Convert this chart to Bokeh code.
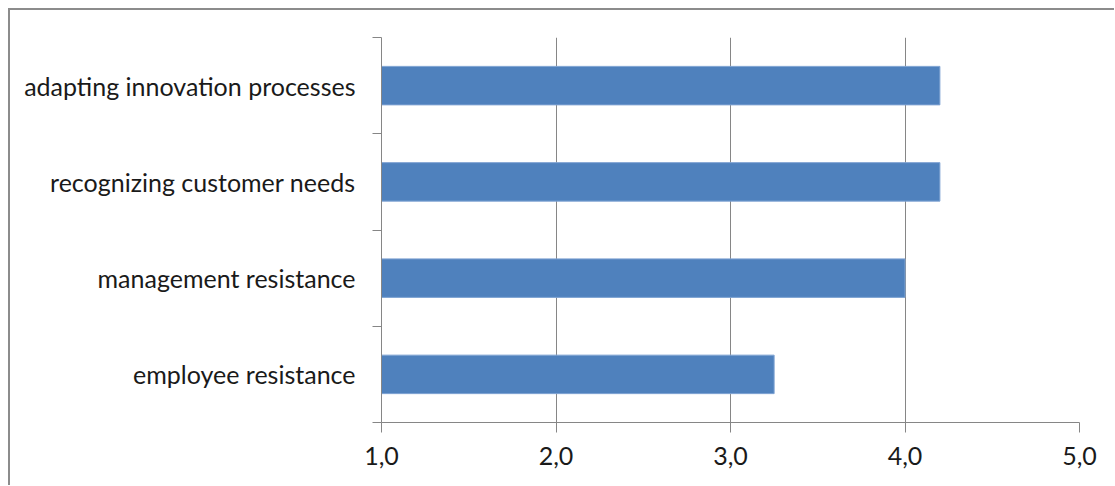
from bokeh.plotting import figure
from bokeh.models import FixedTicker, Range1d
from bokeh.embed import file_html
from bokeh.resources import INLINE

categories = ["employee resistance", "management resistance",
              "recognizing customer needs", "adapting innovation processes"]
values = [3.25, 4.0, 4.2, 4.2]
x_ticks = [1, 2, 3, 4, 5]
x_labels = ["1,0", "2,0", "3,0", "4,0", "5,0"]

centers = [i + 0.5 for i in range(len(categories))]
bounds = [i for i in range(len(categories) + 1)]

p = figure(width=1104, height=475, output_backend="svg", toolbar_location=None,
           x_range=Range1d(1, 5), y_range=Range1d(0, len(categories)),
           frame_width=698, frame_height=385,
           min_border_left=371, min_border_top=27, min_border_right=35, min_border_bottom=63)
p.styles = {"border-left": "2px solid #8c8c8c", "border-top": "2px solid #8c8c8c",
            "margin-left": "8px", "margin-top": "8px"}
p.outline_line_color = None
p.background_fill_color = "white"
p.border_fill_color = "white"

p.hbar(y=centers, left=1, right=values, height=0.4,
       fill_color="#4F81BD", line_color="#7FA3D3", line_width=1)

font = "Lato"
p.xaxis.ticker = FixedTicker(ticks=x_ticks)
p.xaxis.major_label_overrides = {t: l for t, l in zip(x_ticks, x_labels)}
p.xaxis.axis_line_color = "#868686"
p.xaxis.major_tick_line_color = "#868686"
p.xaxis.major_tick_out = 10
p.xaxis.major_tick_in = 0
p.xaxis.minor_tick_line_color = None
p.xaxis.major_label_standoff = 14
p.xaxis.major_label_text_font = font
p.xaxis.major_label_text_font_size = "25px"
p.xaxis.major_label_text_color = "#1a1a1a"

p.yaxis.ticker = FixedTicker(ticks=centers, minor_ticks=bounds)
p.yaxis.major_label_overrides = {c: n for c, n in zip(centers, categories)}
p.yaxis.axis_line_color = "#868686"
p.yaxis.major_tick_line_color = None
p.yaxis.major_tick_out = 0
p.yaxis.major_tick_in = 0
p.yaxis.minor_tick_line_color = "#868686"
p.yaxis.minor_tick_out = 9
p.yaxis.minor_tick_in = 0
p.yaxis.major_label_standoff = 26 - 9
p.yaxis.major_label_text_font = font
p.yaxis.major_label_text_font_size = "25px"
p.yaxis.major_label_text_color = "#1a1a1a"

p.xgrid.ticker = FixedTicker(ticks=x_ticks)
p.xgrid.grid_line_color = "#868686"
p.ygrid.grid_line_color = None

open("out.html", "w").write(file_html(p, INLINE))
